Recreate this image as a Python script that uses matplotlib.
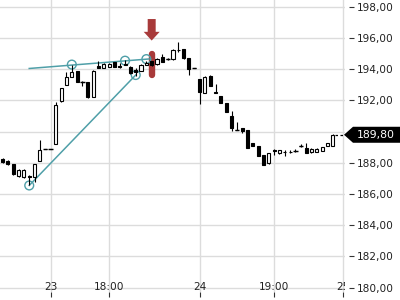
import matplotlib
matplotlib.use("Agg")
import matplotlib.pyplot as plt
from matplotlib.patches import Polygon
import numpy as np

# ---------------- data ----------------
opens = [188.25, 188.15, 187.93, 187.17, 187.10, 187.17, 187.10, 188.12, 188.90, 188.90,
         189.21, 191.98, 192.99, 193.51, 193.89, 193.20, 193.19, 192.22, 194.21, 194.07,
         194.13, 194.47, 194.18, 194.35, 194.17, 193.95, 193.90, 194.28, 194.50, 194.34,
         194.80, 194.66, 194.64, 195.25, 195.28, 194.70, 194.06, 193.38, 192.50, 193.57,
         192.52, 192.29, 191.82, 191.00, 190.12, 190.22, 190.11, 189.28, 189.08, 188.50,
         187.98, 188.80, 188.60, 188.68, 188.72, 188.78, 189.10, 188.96, 188.67, 188.70,
         188.78, 189.08, 189.10]
highs = [188.30, 188.20, 187.95, 187.60, 187.58, 187.20, 187.95, 189.47, 188.90, 188.90,
         191.90, 192.80, 193.83, 194.28, 193.90, 193.27, 193.20, 193.95, 194.50, 194.40,
         194.38, 194.48, 194.37, 194.60, 194.20, 194.05, 194.35, 194.55, 194.55, 194.70,
         194.98, 194.70, 195.30, 195.75, 195.30, 194.72, 194.06, 193.40, 193.55, 193.60,
         193.05, 192.30, 191.83, 191.33, 190.64, 190.25, 190.12, 189.30, 189.10, 188.52,
         188.65, 188.87, 188.85, 188.83, 188.80, 188.87, 189.20, 189.30, 188.92, 188.95,
         189.02, 189.30, 189.82]
lows = [188.00, 187.85, 187.25, 187.10, 187.05, 186.60, 186.75, 188.10, 188.90, 188.90,
        189.20, 191.92, 192.99, 193.50, 193.19, 192.95, 192.18, 192.20, 194.08, 194.07,
        194.12, 194.13, 194.05, 194.26, 193.68, 193.55, 193.88, 194.27, 194.20, 194.30,
        194.45, 194.60, 194.60, 195.12, 194.68, 193.63, 194.06, 191.80, 192.45, 192.93,
        192.48, 191.84, 191.28, 190.04, 190.10, 189.90, 188.94, 189.08, 188.45, 187.87,
        187.95, 188.50, 188.58, 188.45, 188.60, 188.67, 189.00, 188.62, 188.65, 188.68,
        188.75, 189.05, 189.08]
closes = [188.06, 187.95, 187.30, 187.55, 187.55, 187.10, 187.93, 188.83, 188.90, 188.90,
          191.71, 192.78, 193.51, 193.83, 193.19, 193.20, 192.22, 193.89, 194.10, 194.33,
          194.34, 194.13, 194.15, 194.30, 193.74, 193.80, 194.30, 194.43, 194.28, 194.66,
          194.48, 194.66, 195.24, 195.22, 194.70, 194.00, 194.06, 192.53, 193.52, 192.93,
          192.50, 191.84, 191.28, 190.24, 190.12, 190.07, 188.94, 189.08, 188.45, 187.87,
          188.62, 188.78, 188.80, 188.70, 188.70, 188.78, 189.10, 188.66, 188.89, 188.90,
          189.00, 189.25, 189.80]

tick_idx = [9, 20, 37, 51, 64]
tick_labels = ["23", "18:00", "24", "19:00", "25"]
y_ticks = [180, 182, 184, 186, 188, 190, 192, 194, 196, 198]

# pattern (trendlines) points: (candle index, price)
upper_line_x = [5, 27.5]
upper_line_y = [194.05, 194.66]
lower_line_x = [5, 25]
lower_line_y = [186.55, 193.63]
circle_x = [5, 13, 23, 25, 27]
circle_y = [186.55, 194.30, 194.55, 193.63, 194.65]

signal_idx = 28
signal_low = 193.6
signal_high = 195.0
last_price = 189.80

# ---------------- figure ----------------
W, H = 400, 300
fig = plt.figure(figsize=(4, 3), dpi=100)
ax_left, ax_right, ax_top, ax_bottom = 0, 345, 0, 292
ax = fig.add_axes([ax_left / W, (H - ax_bottom) / H, (ax_right - ax_left) / W, (ax_bottom - ax_top) / H])
ax.set_xlim(-0.49, 64.31)
ax.set_ylim(179.72, 198.44)

grid_c = "#dcdcdc"
for v in y_ticks:
    ax.axhline(v, color=grid_c, lw=1.0, zorder=0)
for t in tick_idx:
    ax.axvline(t, color=grid_c, lw=1.0, zorder=0)

teal = "#4f9fa8"
red = "#a83a3a"

# signal red bar behind candles
ax.plot([signal_idx, signal_idx], [signal_low, signal_high], color=red, lw=4.6,
        solid_capstyle="round", zorder=1)

# trendlines
ax.plot(upper_line_x, upper_line_y, color=teal, lw=1.1, zorder=2)
ax.plot(lower_line_x, lower_line_y, color=teal, lw=1.1, zorder=2)
ax.scatter(circle_x, circle_y, s=40, facecolors="none", edgecolors=teal, linewidths=1.0, zorder=2)

# candles
x = np.arange(len(opens))
o = np.array(opens); c = np.array(closes); h = np.array(highs); l = np.array(lows)
ax.vlines(x, l, h, color="black", lw=0.8, zorder=3)
up = c >= o
bw = 0.58
ax.bar(x[up], (c - o)[up], bottom=o[up], width=bw, facecolor="white", edgecolor="black",
       linewidth=0.8, zorder=4)
ax.bar(x[~up], (o - c)[~up], bottom=c[~up], width=bw, facecolor="black", edgecolor="black",
       linewidth=0.8, zorder=4)
flat = np.isclose(o, c)
ax.hlines(o[flat], x[flat] - bw / 2 - 0.1, x[flat] + bw / 2 + 0.1, color="black", lw=1.0, zorder=4)

# signal arrow above
sx = signal_idx
arrow = Polygon([[sx - 0.75, 197.22], [sx + 0.75, 197.22], [sx + 0.75, 196.40],
                 [sx + 1.5, 196.40], [sx, 195.84], [sx - 1.5, 196.40], [sx - 0.75, 196.40]],
                closed=True, facecolor=red, edgecolor="none", zorder=5)
ax.add_patch(arrow)

# dashed last price line
ax.plot([len(opens) - 1 + 0.4, 64.31], [last_price, last_price], color="black", lw=0.9,
        ls=(0, (2, 2)), zorder=3, clip_on=False)

# x labels inside
for t, lab in zip(tick_idx, tick_labels):
    ax.text(t, (ax_bottom - 287) / (ax_bottom - ax_top), lab, transform=ax.get_xaxis_transform(),
            ha="center", va="center", fontsize=7.6, color="#222222", clip_on=True, zorder=6)

ax.set_xticks(tick_idx)
ax.set_xticklabels([])
ax.tick_params(axis="x", direction="out", length=3.5, width=0.8, color="#333333")

ax.yaxis.tick_right()
ax.set_yticks(y_ticks)
# the 190,00 label is hidden behind the last-price tag in the reference
ax.set_yticklabels(["" if v == 190 else f"{v:.2f}".replace(".", ",") for v in y_ticks])
ax.tick_params(axis="y", direction="out", length=3.6, width=0.8, color="#333333",
               pad=2.2, labelsize=7.6, labelcolor="#222222")
ax.spines["right"].set_position(("outward", 2.9))
for s in ax.spines.values():
    s.set_visible(False)

# last price tag (figure pixels)
def disp_to_fig(px, py):
    return px / W, (H - py) / H

yp = ax.transData.transform((0, last_price))[1]
ypix = H - yp
hh = 8
pts = [(344, ypix), (353, ypix - hh), (400, ypix - hh), (400, ypix + hh), (353, ypix + hh)]
tag = Polygon([disp_to_fig(*p) for p in pts], closed=True, transform=fig.transFigure,
              facecolor="black", edgecolor="none", zorder=5)
fig.patches.append(tag)
fig.text(357 / W, (H - ypix) / H, f"{last_price:.2f}".replace(".", ","), color="white",
         fontsize=7.8, ha="left", va="center", zorder=6)

fig.savefig("out.png", dpi=100)
